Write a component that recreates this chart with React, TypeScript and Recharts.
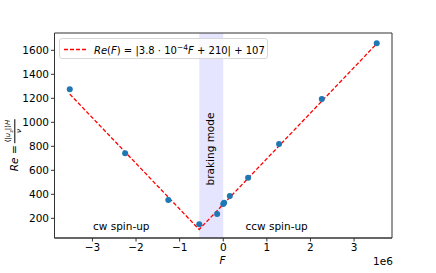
import React from "react";
import {
  ComposedChart,
  XAxis,
  YAxis,
  Scatter,
  Line,
  ReferenceArea,
} from "recharts";

// Measured points (F in N-units, Re)
const pointF = [-3.52e6, -2.25e6, -1.26e6, -0.55e6, -0.14e6, 0.0, 0.02e6, 0.15e6, 0.57e6, 1.28e6, 2.26e6, 3.52e6];
const pointRe = [1275, 742, 352, 150, 236, 319, 330, 386, 538, 819, 1194, 1658];

// Fit line vertices
const fitF = [-3.52e6, -0.5526e6, 3.52e6];
const fitRe = [1235, 107, 1655];

const xTicks = [-3e6, -2e6, -1e6, 0, 1e6, 2e6, 3e6];
const yTicks = [200, 400, 600, 800, 1000, 1200, 1400, 1600];
const brakingRange = [-0.55e6, 0];

const points = pointF.map((F, i) => ({ F, Re: pointRe[i] }));
const fitLine = fitF.map((F, i) => ({ F, Re: fitRe[i] }));

const FONT = "DejaVu Sans, sans-serif";
const FS = 10.5;

const fmtX = (v: number) => {
  const n = Math.round(v / 1e6);
  return n < 0 ? `\u2212${-n}` : `${n}`;
};

export default function App() {
  return (
    <div style={{ position: "absolute", left: 0, top: 0, width: 436, height: 273, background: "#fff", fontFamily: FONT }}>
      <ComposedChart
        width={436}
        height={273}
        margin={{ top: 33, right: 44, bottom: 0, left: 0 }}
      >
        <XAxis
          dataKey="F"
          type="number"
          domain={[-3.87e6, 3.87e6]}
          ticks={xTicks}
          tickFormatter={fmtX}
          allowDataOverflow
          height={35}
          stroke="#333"
          tickLine={{ stroke: "#333" }}
          tickSize={3.5}
          tick={{ fill: "#000", fontSize: FS, fontFamily: FONT }}
        />
        <YAxis
          dataKey="Re"
          type="number"
          domain={[36, 1744]}
          ticks={yTicks}
          allowDataOverflow
          width={54.5}
          stroke="#333"
          tickSize={3.5}
          tick={{ fill: "#000", fontSize: FS, fontFamily: FONT }}
        />
        <ReferenceArea
          x1={brakingRange[0]}
          x2={brakingRange[1]}
          fill="#0000ff"
          fillOpacity={0.1}
          stroke="none"
        />
        <ReferenceArea
          x1={-3.87e6}
          x2={3.87e6}
          y1={36}
          y2={1744}
          fill="none"
          stroke="#333"
          strokeWidth={1}
        />
        <Line
          data={fitLine}
          dataKey="Re"
          stroke="#ff0000"
          strokeWidth={1.3}
          strokeDasharray="4 2"
          dot={false}
          isAnimationActive={false}
          type="linear"
        />
        <Scatter
          data={points}
          dataKey="Re"
          fill="#1f77b4"
          isAnimationActive={false}
          shape={(p: any) => <circle cx={p.cx} cy={p.cy} r={3} fill="#1f77b4" />}
        />
      </ComposedChart>

      {/* Legend */}
      <div
        style={{
          position: "absolute",
          left: 59,
          top: 37.5,
          width: 209,
          height: 21,
          border: "1px solid #d8d8d8",
          borderRadius: 3,
          background: "rgba(255,255,255,0.8)",
          boxSizing: "border-box",
        }}
      >
        <svg style={{ position: "absolute", left: 4, top: 9 }} width={24} height={3}>
          <line x1={0} y1={1.5} x2={22} y2={1.5} stroke="#ff0000" strokeWidth={1.3} strokeDasharray="4 2" />
        </svg>
        <div
          style={{
            position: "absolute",
            left: 34,
            top: 2.5,
            fontSize: 10,
            whiteSpace: "nowrap",
            color: "#000",
            lineHeight: "14px",
          }}
        >
          <i>Re</i>(<i>F</i>) = |3.8 · 10<sup style={{ fontSize: 7.5, verticalAlign: "4px" }}>−4</sup><i>F</i> + 210| + 107
        </div>
      </div>

      {/* Region annotations */}
      <div style={{ position: "absolute", left: 93, top: 220, fontSize: FS, whiteSpace: "nowrap" }}>cw spin-up</div>
      <div style={{ position: "absolute", left: 245.5, top: 220, fontSize: FS, whiteSpace: "nowrap" }}>ccw spin-up</div>
      <div
        style={{
          position: "absolute",
          left: 210,
          top: 149,
          fontSize: FS,
          whiteSpace: "nowrap",
          transform: "translate(-50%, -50%) rotate(-90deg)",
        }}
      >
        braking mode
      </div>

      {/* Axis labels */}
      <div style={{ position: "absolute", left: 219.5, top: 254, fontSize: FS, fontStyle: "italic" }}>F</div>
      <div style={{ position: "absolute", left: 373, top: 254.5, fontSize: FS }}>1e6</div>
      <div
        style={{
          position: "absolute",
          left: 14,
          top: 145,
          fontSize: FS,
          whiteSpace: "nowrap",
          transform: "translate(-50%, -50%) rotate(-90deg)",
          display: "flex",
          alignItems: "center",
        }}
      >
        <span><i>Re</i> = </span>
        <span style={{ display: "inline-flex", flexDirection: "column", alignItems: "center", fontSize: 7, lineHeight: "8px", marginLeft: 2 }}>
          <span style={{ borderBottom: "0.6px solid #000", padding: "0 1px" }}>
            ⟨|<i>u</i><sub style={{ fontSize: 5 }}>z</sub>|⟩<i>H</i>
          </span>
          <span><i>ν</i></span>
        </span>
      </div>
    </div>
  );
}
